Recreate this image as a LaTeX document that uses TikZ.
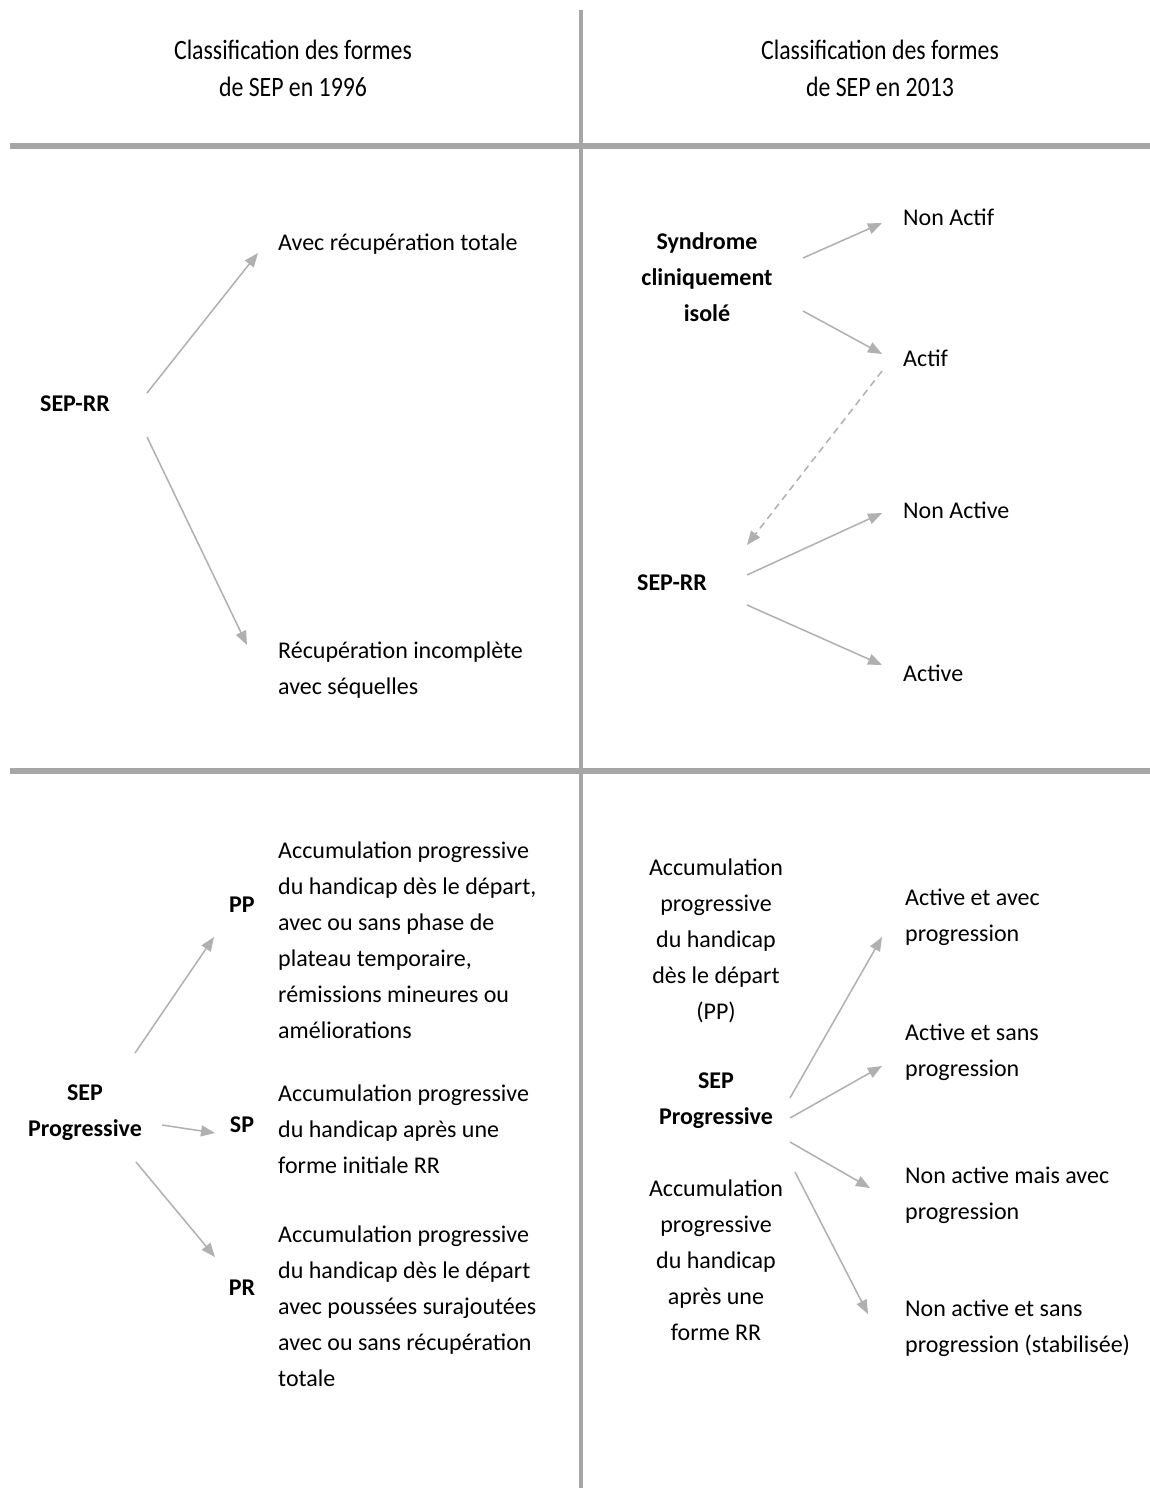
\documentclass[tikz,border=0pt]{standalone}
\usepackage{fontspec}
\setmainfont{Carlito}
\newfontfamily\hdrfont[FakeStretch=0.85]{Carlito}
\usetikzlibrary{arrows.meta}
\definecolor{rulec}{HTML}{A6A6A6}
\definecolor{arrc}{HTML}{B0B0B0}
\begin{document}
\begin{tikzpicture}[x=1pt,y=-1pt,
  txt/.style={inner sep=0pt, font=\fontsize{24}{36}\selectfont, execute at begin node=\rule{0pt}{20pt}},
  txtb/.style={inner sep=0pt, font=\fontsize{24}{36}\selectfont\bfseries, execute at begin node=\rule{0pt}{20pt}},
  hdr/.style={inner sep=0pt, align=center, font=\fontsize{28}{37}\selectfont\hdrfont, execute at begin node=\rule{0pt}{20pt}},
  arr/.style={draw=arrc, line width=1.5pt, -{Triangle[length=14pt,width=11pt]}},
  darr/.style={arr, dashed, dash pattern=on 7pt off 5pt},
  sep/.style={draw=rulec}]
\useasboundingbox (0,0) rectangle (1150,1488);
\fill[white] (0,0) rectangle (1150,1488);
% grid lines
\coordinate (vt) at (581,10);
\coordinate (vb) at (581,1488);
\coordinate (h1l) at (10,146);
\coordinate (h1r) at (1150,146);
\coordinate (h2l) at (10,771);
\coordinate (h2r) at (1150,771);
\draw[sep, line width=4pt] (vt) -- (vb);
\draw[sep, line width=6pt] (h1l) -- (h1r);
\draw[sep, line width=6pt] (h2l) -- (h2r);
% headers
\node[hdr, anchor=north] (hL) at (293,40) {Classification des formes\\de SEP en 1996};
\node[hdr, anchor=north] (hR) at (880,40) {Classification des formes\\de SEP en 2013};
% left top
\node[txt, anchor=north west] (L1a) at (278,230) {Avec récupération totale};
\node[txtb, anchor=north] (Lsep) at (75,391) {SEP-RR};
\node[txt, anchor=north west, align=left] (L1b) at (278,642) {Récupération incomplète\\avec séquelles};
% right top
\node[txtb, anchor=north, align=center] (Rsci) at (707,232) {Syndrome\\cliniquement\\isolé};
\node[txt, anchor=north west] (Rna) at (903,205) {Non Actif};
\node[txt, anchor=north west] (Ra) at (903,346) {Actif};
\node[txt, anchor=north west] (Rnac) at (903,498) {Non Active};
\node[txtb, anchor=north] (Rsep) at (672,570) {SEP-RR};
\node[txt, anchor=north west] (Rac) at (903,661) {Active};
% left bottom
\node[txtb, anchor=north, align=center] (Lprog) at (85,1085) {SEP\\Progressive};
\node[txtb, anchor=north] (PP) at (242,892) {PP};
\node[txtb, anchor=north] (SP) at (242,1112) {SP};
\node[txtb, anchor=north] (PR) at (242,1275) {PR};
\node[txt, anchor=north west, align=left] (PPt) at (278,842) {Accumulation progressive\\du handicap dès le départ,\\avec ou sans phase de\\plateau temporaire,\\rémissions mineures ou\\améliorations};
\node[txt, anchor=north west, align=left] (SPt) at (278,1085) {Accumulation progressive\\du handicap après une\\forme initiale RR};
\node[txt, anchor=north west, align=left] (PRt) at (278,1226) {Accumulation progressive\\du handicap dès le départ\\avec poussées surajoutées\\avec ou sans récupération\\totale};
% right bottom
\node[txt, anchor=north, align=center] (Rpp) at (716,859) {Accumulation\\progressive\\du handicap\\dès le départ\\(PP)};
\node[txtb, anchor=north, align=center] (Rprog) at (716,1073) {SEP\\Progressive};
\node[txt, anchor=north, align=center] (Rrr) at (716,1180) {Accumulation\\progressive\\du handicap\\après une\\forme RR};
\node[txt, anchor=north west, align=left] (Raa) at (905,889) {Active et avec\\progression};
\node[txt, anchor=north west, align=left] (Ras) at (905,1024) {Active et sans\\progression};
\node[txt, anchor=north west, align=left] (Rnam) at (905,1167) {Non active mais avec\\progression};
\node[txt, anchor=north west, align=left] (Rnas) at (905,1300) {Non active et sans\\progression (stabilisée)};
% arrow end points
\coordinate (a1s) at (147,393); \coordinate (a1e) at (258,253);
\coordinate (a2s) at (147,437); \coordinate (a2e) at (247,645);
\coordinate (b1s) at (803,258); \coordinate (b1e) at (882,223);
\coordinate (b2s) at (803,311); \coordinate (b2e) at (882,354);
\coordinate (b3s) at (882,371); \coordinate (b3e) at (747,545);
\coordinate (b4s) at (747,575); \coordinate (b4e) at (882,513);
\coordinate (b5s) at (747,605); \coordinate (b5e) at (882,665);
\coordinate (c1s) at (135,1053); \coordinate (c1e) at (214,937);
\coordinate (c2s) at (162,1125); \coordinate (c2e) at (215,1133);
\coordinate (c3s) at (136,1162); \coordinate (c3e) at (215,1257);
\coordinate (d1s) at (790,1098); \coordinate (d1e) at (882,937);
\coordinate (d2s) at (790,1118); \coordinate (d2e) at (882,1066);
\coordinate (d3s) at (790,1142); \coordinate (d3e) at (870,1188);
\coordinate (d4s) at (795,1172); \coordinate (d4e) at (868,1314);
\draw[arr] (a1s) -- (a1e);
\draw[arr] (a2s) -- (a2e);
\draw[arr] (b1s) -- (b1e);
\draw[arr] (b2s) -- (b2e);
\draw[darr] (b3s) -- (b3e);
\draw[arr] (b4s) -- (b4e);
\draw[arr] (b5s) -- (b5e);
\draw[arr] (c1s) -- (c1e);
\draw[arr] (c2s) -- (c2e);
\draw[arr] (c3s) -- (c3e);
\draw[arr] (d1s) -- (d1e);
\draw[arr] (d2s) -- (d2e);
\draw[arr] (d3s) -- (d3e);
\draw[arr] (d4s) -- (d4e);
\end{tikzpicture}
\end{document}
